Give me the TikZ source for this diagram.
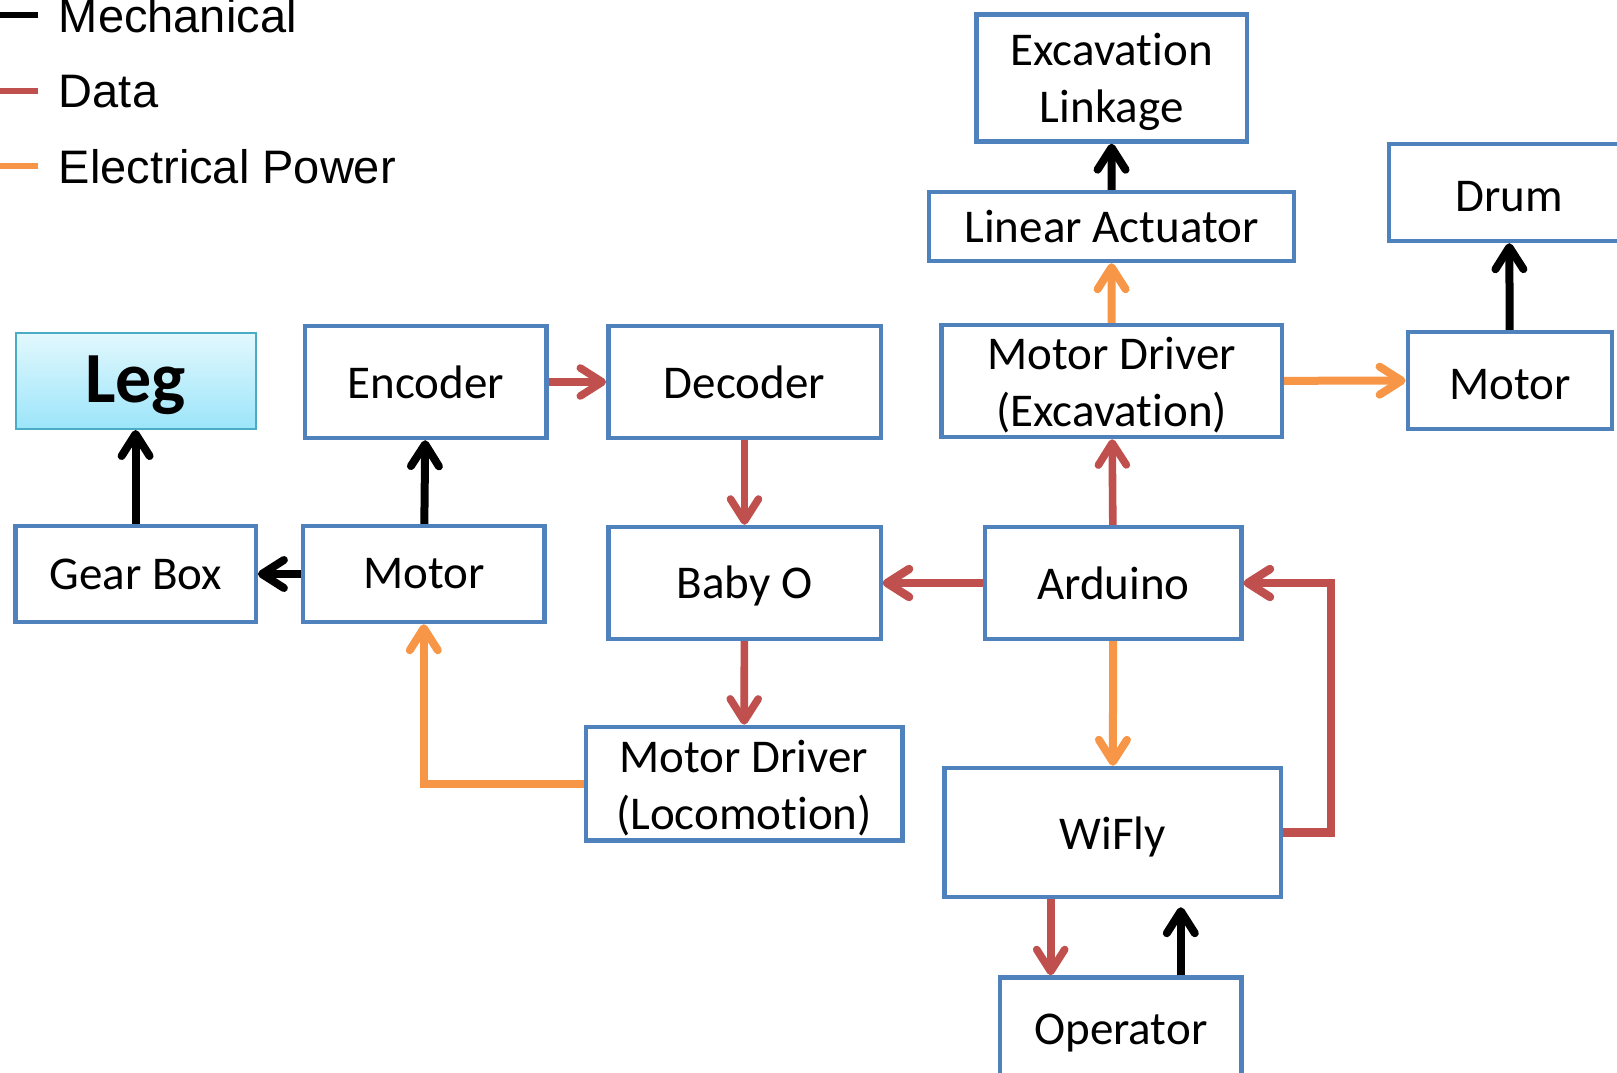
\documentclass[tikz,border=0pt]{standalone}
\usepackage{fontspec}
\setmainfont{Carlito}[Ligatures=NoCommon]
\newfontfamily\legendfont{Liberation Sans}
\usetikzlibrary{arrows.meta}

\definecolor{boxblue}{HTML}{4F81BD}
\definecolor{datared}{HTML}{C0504D}
\definecolor{powerorange}{HTML}{F79646}
\definecolor{legedge}{HTML}{4BACC6}
\definecolor{legtop}{HTML}{E2F8FD}
\definecolor{legbot}{HTML}{9CE5FA}

\newcommand\diagfont{\fontsize{23.5}{28.5}\selectfont}
\newcommand\keyfont{\legendfont\fontsize{23.5}{28}\selectfont}
% invisible struts that lower a label slightly inside its box
\newcommand\lowa{\rule{0pt}{20.5pt}}
\newcommand\lowb{\rule{0pt}{19pt}}

\begin{document}
\begin{tikzpicture}[x=0.5pt,y=-0.5pt,
  blk/.style={draw=boxblue, line width=2.2pt, fill=white, inner sep=0pt,
              align=center, font=\diagfont},
  tip/.style={-{Straight Barb[length=11pt,width=14pt,round]}},
  mech/.style={draw=black, line width=4pt, tip},
  data/.style={draw=datared, line width=3.8pt, tip},
  datathick/.style={draw=datared, line width=4.2pt, tip},
  power/.style={draw=powerorange, line width=4pt, tip},
  keyline/.style={line width=3pt},
  keytext/.style={anchor=base west, inner sep=0pt, font=\keyfont}]
\useasboundingbox (0,0) rectangle (1617,1072);

% legend
\coordinate (k1) at (-10,14.5);
\coordinate (k1e) at (38,14.5);
\coordinate (k2) at (-10,91);
\coordinate (k2e) at (38,91);
\coordinate (k3) at (-10,166);
\coordinate (k3e) at (38,166);
\draw[keyline, black] (k1) -- (k1e);
\draw[keyline, datared] (k2) -- (k2e);
\draw[keyline, powerorange] (k3) -- (k3e);
\node[keytext] (kmech) at (58.5,32) {Mechanical};
\node[keytext] (kdata) at (58.5,107.5) {Data};
\node[keytext] (kpower) at (58.5,183) {Electrical Power};

% locomotion side
\node[draw=legedge, line width=1pt, top color=legtop, bottom color=legbot,
      inner sep=0pt, minimum width=120.1pt, minimum height=48pt, text depth=2pt,
      font=\fontsize{36}{40}\selectfont\bfseries] (leg) at (135.6,381) {Leg};
\node[blk, minimum width=120.8pt, minimum height=56pt] (enc) at (425.8,382) {Encoder};
\node[blk, minimum width=136.2pt, minimum height=56pt] (dec) at (744.5,382) {Decoder};
\node[blk, minimum width=120.1pt, minimum height=48pt] (gear) at (135.6,574) {Gear Box};
\node[blk, minimum width=120.8pt, minimum height=48pt] (motl) at (423.8,574) {Motor};
\node[blk, minimum width=136.2pt, minimum height=56pt] (baby) at (744.5,583) {\lowb Baby O};
\node[blk, minimum width=158.3pt, minimum height=56.8pt] (mdloc) at (744,783.7) {\lowa Motor Driver\\(Locomotion)};

% control and excavation side
\node[blk, minimum width=128.3pt, minimum height=56pt] (ard) at (1113.3,583) {Arduino};
\node[blk, minimum width=168.1pt, minimum height=64.5pt] (wifly) at (1112.7,832.5) {\lowa WiFly};
\node[blk, minimum width=120.8pt, minimum height=50.5pt] (oper) at (1120.8,1028) {\lowa Operator};
\node[blk, minimum width=135.1pt, minimum height=63.5pt] (link) at (1111.7,78) {\lowa Excavation\\Linkage};
\node[blk, minimum width=182.5pt, minimum height=34.5pt] (lin) at (1111.5,226.5) {Linear Actuator};
\node[blk, minimum width=170.3pt, minimum height=56pt] (mdexc) at (1111.7,381) {\lowa Motor Driver\\(Excavation)};
\node[blk, minimum width=120pt, minimum height=48.5pt] (drum) at (1509,192.5) {\lowb Drum};
\node[blk, minimum width=102.2pt, minimum height=48.5pt] (motr) at (1510,380.5) {\lowb Motor};

% mechanical links
\draw[mech] (gear) -- (leg);
\draw[mech] (motl) -- (enc);
\draw[mech] (motl) -- (gear);
\draw[mech] (lin) -- (link);
\draw[mech] (motr) -- (drum);
\coordinate (opup) at ([xshift=30pt]oper.north);
\draw[mech] (opup) -- ([yshift=-4pt]opup |- wifly.south);

% data links
\draw[data] (enc) -- (dec);
\draw[data] (dec) -- (baby);
\draw[data] (baby) -- (mdloc);
\draw[datathick] (ard) -- (baby);
\draw[data] (ard) -- (mdexc);
\draw[datathick] (wifly.east) -- ++(48,0) |- (ard.east);
\coordinate (wfdown) at ([xshift=-31pt]wifly.south);
\draw[data] (wfdown) -- (wfdown |- oper.north);

% power links
\draw[power] (mdloc.west) -| (motl.south);
\draw[power] (mdexc) -- (lin);
\draw[power] (mdexc) -- (motr);
\draw[power] (ard) -- (wifly);
\end{tikzpicture}
\end{document}
